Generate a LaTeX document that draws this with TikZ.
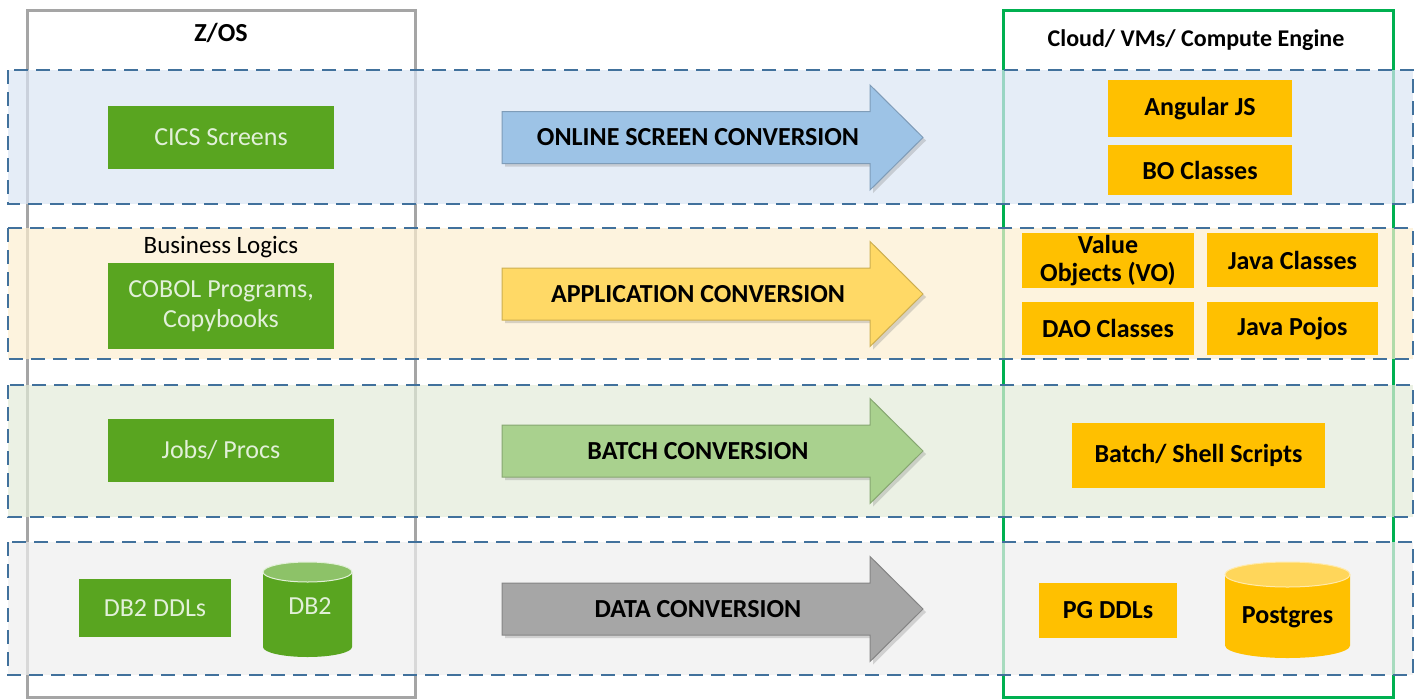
\documentclass[tikz,border=0pt]{standalone}
\usepackage{fontspec}
\setmainfont{Carlito}
\usetikzlibrary{shadows}

\definecolor{srcgreen}{RGB}{89,165,32}
\definecolor{srctext}{RGB}{226,240,217}
\definecolor{db2top}{RGB}{141,194,104}
\definecolor{tgtorange}{RGB}{255,192,0}
\definecolor{pgtop}{RGB}{255,214,90}
\definecolor{zosgray}{RGB}{165,165,165}
\definecolor{cloudgreen}{RGB}{0,176,80}
\definecolor{banddash}{RGB}{65,113,156}
\definecolor{bandblue}{RGB}{218,229,244}
\definecolor{bandyellow}{RGB}{252,238,208}
\definecolor{bandgreen}{RGB}{226,235,216}
\definecolor{bandgray}{RGB}{238,238,238}
\definecolor{arrblue}{RGB}{157,195,230}
\definecolor{arryellow}{RGB}{255,217,102}
\definecolor{arrgreen}{RGB}{169,209,142}
\definecolor{arrgray}{RGB}{166,166,166}

\begin{document}
\begin{tikzpicture}[x=1pt,y=-1pt,
    band/.style={draw=banddash, line width=2pt, dash pattern=on 14pt off 8pt, fill opacity=0.7},
    srcbox/.style={fill=srcgreen, text=srctext, font=\fontsize{26}{30}\selectfont, align=center, inner sep=0pt},
    tgtbox/.style={fill=tgtorange, font=\fontsize{26}{28}\selectfont\bfseries, align=center, inner sep=0pt},
    convarrow/.style={line width=1pt, drop shadow={shadow xshift=3pt, shadow yshift=-3pt, opacity=0.3}},
    convtext/.style={font=\fontsize{26}{28}\selectfont\bfseries},
    header/.style={font=\fontsize{24}{27}\selectfont\bfseries}]
                \useasboundingbox (0,0) rectangle (1424,699);

                % platform frames
                \draw[zosgray, line width=3pt] (27,10) rectangle (415,697);
                \draw[cloudgreen, line width=3pt] (1003,10) rectangle (1393,697);
                \node[header, font=\fontsize{26}{28}\selectfont\bfseries] (zos) at (221,33) {Z/OS};
                \node[header] (cloud) at (1196,40) {Cloud/ VMs/ Compute Engine};

                % conversion bands
                \draw[band, fill=bandblue] (8,70) rectangle (1413,204);
                \draw[band, fill=bandyellow] (8,228) rectangle (1413,359);
                \draw[band, fill=bandgreen] (8,385) rectangle (1413,517);
                \draw[band, fill=bandgray] (8,542) rectangle (1413,675);

                % source side
                \node[srcbox, minimum width=226, minimum height=63] (cics) at (221,137.5) {CICS Screens};
                \node[font=\fontsize{25}{27}\selectfont] (logics) at (221,247) {Business Logics};
                \node[srcbox, minimum width=226, minimum height=86] (cobol) at (221,306) {COBOL Programs,\\Copybooks};
                \node[srcbox, minimum width=226, minimum height=63] (jobs) at (221,450.5) {Jobs/ Procs};
                \node[srcbox, minimum width=152, minimum height=58] (db2ddl) at (155,608) {DB2 DDLs};

                \fill[srcgreen] (263,572) -- (263,647) arc[start angle=180, end angle=0, x radius=44.5, y radius=10] -- (352,572) -- cycle;
                \filldraw[fill=db2top, draw=srctext, line width=1pt] (307.5,572) ellipse [x radius=44.5, y radius=10];
                \node[text=srctext, font=\fontsize{26}{28}\selectfont] (db2) at (310,606) {DB2};

                % conversion arrows
                \foreach \yc/\fc/\txt in {137.5/arrblue/ONLINE SCREEN CONVERSION,
                                          294/arryellow/APPLICATION CONVERSION,
                                          451/arrgreen/BATCH CONVERSION,
                                          609/arrgray/DATA CONVERSION}{
                    \draw[convarrow, fill=\fc, draw=\fc!80!black] (502,\yc-26) -- (870,\yc-26) -- (870,\yc-52.5)
                        -- (923,\yc) -- (870,\yc+52.5) -- (870,\yc+26) -- (502,\yc+26) -- cycle;
                    \node[convtext] (conv\yc) at (698,\yc) {\txt};
                }

                % target side
                \node[tgtbox, minimum width=184, minimum height=57] (angular) at (1200,108.5) {Angular JS};
                \node[tgtbox, minimum width=184, minimum height=50] (bo) at (1200,170) {BO Classes};
                \node[tgtbox, minimum width=172, minimum height=55] (vo) at (1108,260.5) {Value\\Objects (VO)};
                \node[tgtbox, minimum width=171, minimum height=54] (javacls) at (1292.5,260) {Java Classes};
                \node[tgtbox, minimum width=172, minimum height=53] (dao) at (1108,328.5) {DAO Classes};
                \node[tgtbox, minimum width=171, minimum height=53] (pojo) at (1292.5,328.5) {Java Pojos};
                \node[tgtbox, minimum width=253, minimum height=65] (batch) at (1198.5,455.5) {Batch/ Shell Scripts};
                \node[tgtbox, minimum width=138, minimum height=55] (pgddl) at (1108,610.5) {PG DDLs};

                \fill[tgtorange] (1225,574.5) -- (1225,645.5) arc[start angle=180, end angle=0, x radius=62.5, y radius=12.5] -- (1350,574.5) -- cycle;
                \filldraw[fill=pgtop, draw=pgtop!50!white, line width=1pt] (1287.5,574.5) ellipse [x radius=62.5, y radius=12.5];
                \node[font=\fontsize{26}{28}\selectfont\bfseries] (pg) at (1287.5,617) {Postgres};
\end{tikzpicture}
\end{document}
